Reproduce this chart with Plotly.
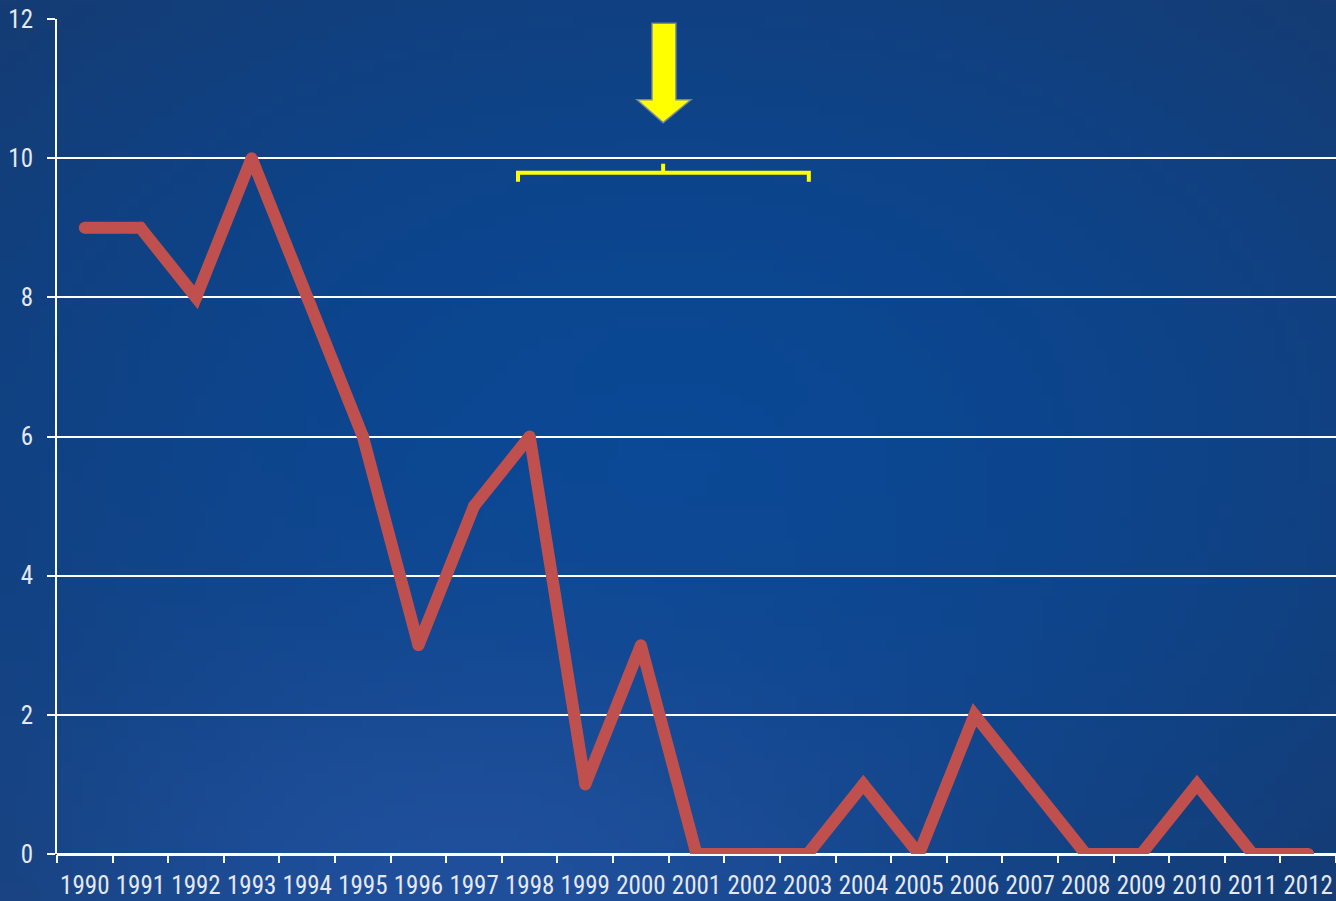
import base64, struct, zlib, math
import plotly.graph_objects as go

years = [str(y) for y in range(1990, 2013)]
values = [9, 9, 8, 10, 8, 6, 3, 5, 6, 1, 3, 0, 0, 0, 1, 0, 2, 1, 0, 0, 1, 0, 0]
y_ticks = [0, 2, 4, 6, 8, 10, 12]

W, H = 1336, 901
ML, MR, MT, MB = 57, 0, 19, 47
PW, PH = W - ML - MR, H - MT - MB

# ---- background gradient image (styling only) ----
def make_png(w, h, fn):
    raw = bytearray()
    for j in range(h):
        raw.append(0)
        for i in range(w):
            raw.extend(fn(i / (w - 1), j / (h - 1)))
    def chunk(t, d):
        c = struct.pack(">I", len(d)) + t + d
        return c + struct.pack(">I", zlib.crc32(t + d) & 0xffffffff)
    png = b"\x89PNG\r\n\x1a\n" + chunk(b"IHDR", struct.pack(">IIBBBBB", w, h, 8, 2, 0, 0, 0))
    png += chunk(b"IDAT", zlib.compress(bytes(raw), 9)) + chunk(b"IEND", b"")
    return "data:image/png;base64," + base64.b64encode(png).decode()

center = (10, 72, 149)
edge = (21, 60, 116)
light = (32, 80, 156)
def grad(u, v):
    d = math.sqrt(((u - 0.5) / 0.7) ** 2 + ((v - 0.5) / 0.7) ** 2)
    t = min(1.0, d) ** 1.6
    c = [center[k] + (edge[k] - center[k]) * t for k in range(3)]
    g = math.exp(-(((u - 0.35) / 0.35) ** 2 + ((v - 1.0) / 0.3) ** 2))
    c = [c[k] + (light[k] - c[k]) * g for k in range(3)]
    return [int(max(0, min(255, x))) for x in c]

bg = make_png(120, 81, grad)

fig = go.Figure()
fig.add_trace(go.Scatter(
    x=years, y=values, mode="lines+markers",
    line=dict(color="#c0504d", width=12),
    marker=dict(color="#c0504d", size=12, line=dict(width=0)),
    hoverinfo="x+y", showlegend=False,
))

fnt = dict(family="Liberation Sans Narrow, Roboto Condensed, Arial Narrow, sans-serif", size=25, color="#e6e8f0")

shapes = [
    # arrow
    dict(type="path", xref="x", yref="y",
         path="M 10.20 11.94 L 10.63 11.94 L 10.63 10.84 L 10.90 10.84 L 10.40 10.51 L 9.93 10.84 L 10.20 10.84 Z",
         fillcolor="#ffff00", line=dict(color="rgba(120,135,160,0.9)", width=1.5)),
    # bracket
    dict(type="path", xref="x", yref="y",
         path="M 7.79 9.66 L 7.79 9.79 L 13.02 9.79 L 13.02 9.66",
         line=dict(color="#ffff00", width=4)),
    dict(type="line", xref="x", yref="y", x0=10.40, x1=10.40, y0=9.79, y1=9.92,
         line=dict(color="#ffff00", width=4)),
]

fig.update_layout(
    width=W, height=H,
    margin=dict(l=ML, r=MR, t=MT, b=MB),
    paper_bgcolor="#0f4384",
    plot_bgcolor="rgba(0,0,0,0)",
    font=fnt,
    shapes=shapes,
    images=[dict(source=bg, xref="paper", yref="paper",
                 x=-ML / PW, y=1 + MT / PH, sizex=W / PW, sizey=H / PH,
                 xanchor="left", yanchor="top", sizing="stretch", layer="below")],
    xaxis=dict(type="category", range=[-0.5, 22.5], tickson="boundaries", tickangle=0,
               automargin=False, ticklabelstandoff=14,
               ticks="outside", ticklen=8, tickwidth=2, tickcolor="white",
               showgrid=False, showline=False, zeroline=False, tickfont=fnt, fixedrange=True),
    yaxis=dict(range=[0, 12], tickvals=y_ticks, ticks="outside", ticklen=8, tickwidth=2,
               automargin=False, ticklabelstandoff=9,
               tickcolor="white", showgrid=True, gridcolor="white", gridwidth=2,
               showline=True, linecolor="white", linewidth=2,
               zeroline=True, zerolinecolor="white", zerolinewidth=3, tickfont=fnt, fixedrange=True),
)

fig.write_html("out.html", config={"displayModeBar": False})
with open("out.html", encoding="utf-8") as f:
    html = f.read()
html = html.replace("<head>", "<head><style>html,body{margin:0;padding:0;overflow:hidden;background:#0f4384}</style>", 1)
with open("out.html", "w", encoding="utf-8") as f:
    f.write(html)
